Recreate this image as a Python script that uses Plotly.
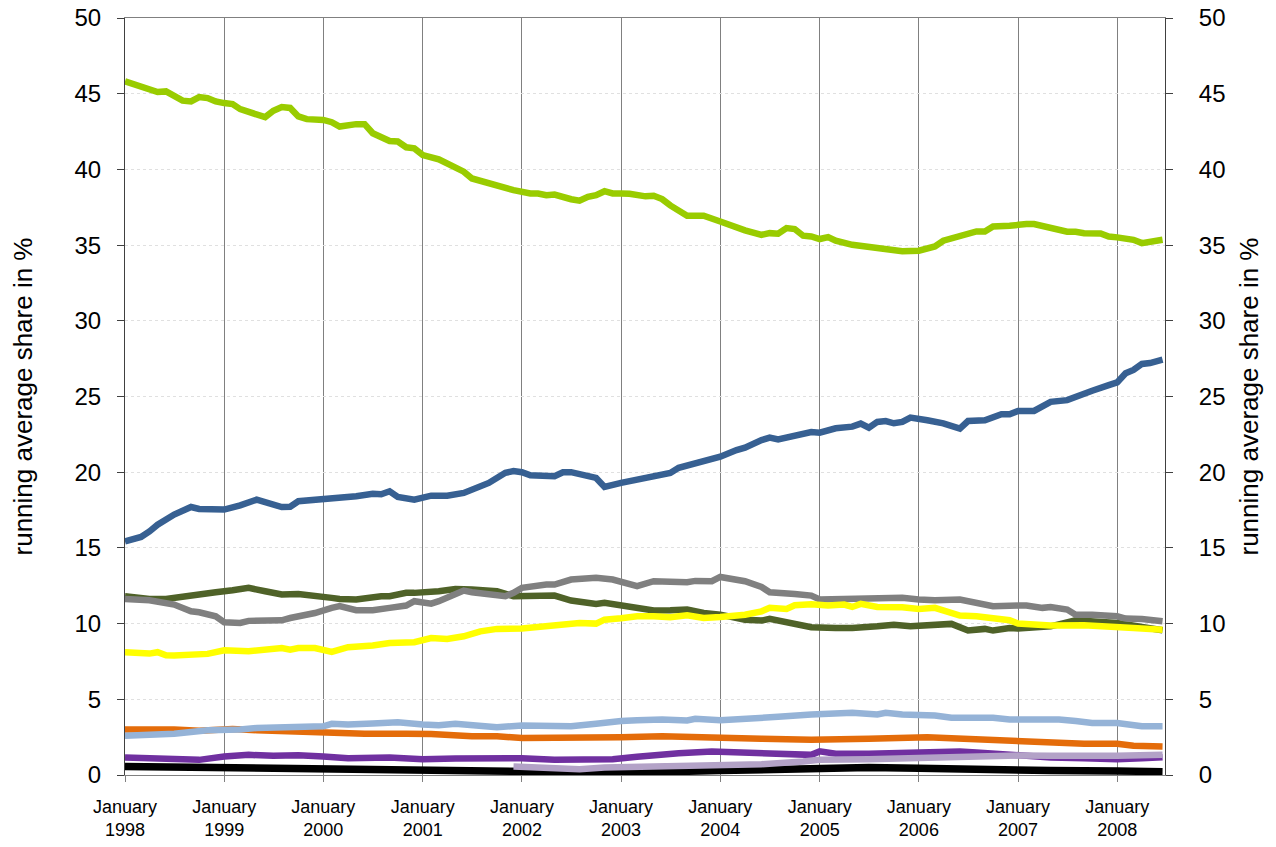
import pandas as pd
import plotly.graph_objects as go

# Month offsets since January 1998 (fractional = part of month) and values (%)
green_m = [0, 2, 4, 5, 6, 7, 8, 9, 10, 11, 12, 13, 14, 17, 18, 19, 20, 21, 22, 24, 25, 26, 28, 29, 30, 32, 33, 34, 35, 36, 38, 40, 41, 42, 44, 46, 47, 49, 50, 51, 52, 54, 55, 56, 57, 58, 59, 60, 61, 63, 64, 65, 66, 68, 70, 72, 74, 75, 77, 78, 79, 80, 81, 82, 83, 84, 85, 86, 88, 89, 92, 93, 94, 96, 98, 99, 102, 103, 104, 105, 107, 108, 109, 110, 112, 114, 115, 116, 118, 119, 120, 121, 122, 123, 124, 125.5]
green_v = [45.82, 45.49, 45.11, 45.15, 44.82, 44.54, 44.49, 44.78, 44.71, 44.49, 44.38, 44.31, 43.98, 43.45, 43.87, 44.12, 44.06, 43.5, 43.32, 43.27, 43.12, 42.83, 42.99, 42.99, 42.39, 41.88, 41.84, 41.46, 41.39, 40.95, 40.66, 40.18, 39.85, 39.40, 39.07, 38.78, 38.63, 38.41, 38.41, 38.30, 38.34, 38.03, 37.94, 38.19, 38.30, 38.56, 38.41, 38.41, 38.39, 38.22, 38.26, 38.04, 37.62, 36.94, 36.94, 36.56, 36.12, 35.97, 35.68, 35.79, 35.75, 36.12, 36.06, 35.62, 35.57, 35.40, 35.53, 35.29, 35.02, 34.96, 34.69, 34.74, 34.60, 34.63, 34.91, 35.29, 35.73, 35.90, 35.90, 36.23, 36.28, 36.37, 36.39, 36.39, 36.12, 35.88, 35.88, 35.79, 35.77, 35.57, 35.51, 35.40, 35.35, 35.13, 35.18, 35.35]

blue_m = [0, 2, 3, 4, 6, 8, 9, 12, 14, 16, 19, 20, 21, 22, 24, 25, 28, 30, 31, 32, 33, 35, 37, 39, 40, 41, 44, 45, 46, 47, 48, 49, 52, 53, 54, 57, 58, 60, 61, 62, 64, 66, 67, 69, 70, 72, 74, 75, 77, 78, 79, 81, 83, 84, 86, 88, 89, 90, 91, 92, 93, 94, 95, 97, 99, 101, 102, 104, 106, 107, 108, 110, 112, 114, 116, 117, 119, 120, 121, 122, 123, 124, 125.5]
blue_v = [15.43, 15.72, 16.09, 16.53, 17.20, 17.70, 17.57, 17.53, 17.81, 18.19, 17.70, 17.72, 18.08, 18.12, 18.30, 18.34, 18.41, 18.57, 18.54, 18.74, 18.37, 18.19, 18.45, 18.45, 18.57, 18.63, 19.29, 19.62, 19.96, 20.07, 20.0, 19.80, 19.74, 20.0, 20.0, 19.62, 19.03, 19.3, 19.4, 19.55, 19.7, 19.95, 20.29, 20.58, 20.66, 21.02, 21.46, 21.62, 22.12, 22.28, 22.17, 22.39, 22.65, 22.61, 22.90, 23.01, 23.21, 22.94, 23.32, 23.38, 23.23, 23.32, 23.61, 23.43, 23.23, 22.88, 23.38, 23.43, 23.83, 23.83, 24.05, 24.05, 24.65, 24.76, 25.11, 25.38, 25.75, 25.93, 26.53, 26.75, 27.15, 27.21, 27.43]

olive_m = [0, 3, 5, 8, 9, 11, 13, 15, 17, 19, 21, 22, 25, 26, 28, 31, 32, 34, 35, 38, 40, 42, 45, 47, 49, 51, 52, 54, 57, 58, 60, 62, 64, 66, 68, 70, 72, 75, 77, 78, 81, 83, 86, 88, 91, 93, 95, 97, 100, 102, 104, 105, 107, 108, 112, 115, 117, 120, 123, 125.5]
olive_v = [11.81, 11.63, 11.63, 11.81, 11.85, 12.07, 12.20, 12.36, 12.14, 11.92, 11.96, 11.92, 11.70, 11.63, 11.59, 11.81, 11.81, 12.03, 12.03, 12.14, 12.29, 12.25, 12.14, 11.81, 11.85, 11.81, 11.85, 11.52, 11.30, 11.37, 11.2, 11.05, 10.86, 10.88, 10.93, 10.70, 10.59, 10.26, 10.20, 10.31, 9.93, 9.76, 9.71, 9.71, 9.82, 9.93, 9.82, 9.89, 9.98, 9.54, 9.65, 9.54, 9.71, 9.67, 9.82, 10.22, 10.15, 10.04, 9.78, 9.56]

grey_m = [0, 3, 6, 8, 9, 11, 12, 14, 15, 19, 20, 22, 23, 25, 26, 28, 30, 32, 34, 35, 37, 38, 40, 41, 42, 44, 46, 47, 48, 51, 52, 54, 57, 59, 60, 61, 62, 64, 66, 68, 69, 71, 72, 74, 75, 77, 78, 81, 83, 84, 87, 88, 91, 94, 96, 98, 101, 103, 105, 108, 109, 111, 112, 114, 115, 117, 120, 121, 123, 125.5]
grey_v = [11.63, 11.54, 11.26, 10.81, 10.75, 10.48, 10.09, 10.04, 10.18, 10.22, 10.37, 10.59, 10.70, 11.04, 11.15, 10.88, 10.88, 11.04, 11.19, 11.48, 11.32, 11.48, 11.92, 12.18, 12.07, 11.92, 11.81, 12.03, 12.36, 12.58, 12.58, 12.91, 13.02, 12.91, 12.75, 12.58, 12.47, 12.80, 12.75, 12.73, 12.82, 12.80, 13.08, 12.91, 12.80, 12.42, 12.07, 11.96, 11.85, 11.59, 11.63, 11.63, 11.76, 11.70, 11.59, 11.54, 11.59, 11.37, 11.15, 11.19, 11.19, 11.04, 11.10, 10.93, 10.59, 10.59, 10.48, 10.33, 10.31, 10.15]

yellow_m = [0, 3, 4, 5, 6, 10, 12, 14, 15, 19, 20, 21, 23, 25, 27, 30, 32, 35, 37, 39, 41, 43, 45, 48, 51, 53, 55, 57, 58, 60, 62, 64, 66, 68, 70, 72, 75, 77, 78, 80, 81, 83, 85, 87, 88, 89, 91, 94, 96, 98, 100, 101, 103, 104, 106, 107, 108, 112, 116, 120, 122, 125.5]
yellow_v = [8.11, 8.02, 8.11, 7.91, 7.89, 8.0, 8.24, 8.24, 8.17, 8.39, 8.28, 8.39, 8.39, 8.13, 8.44, 8.55, 8.72, 8.77, 9.05, 8.99, 9.16, 9.49, 9.65, 9.67, 9.87, 9.98, 10.04, 10.0, 10.26, 10.35, 10.48, 10.48, 10.42, 10.55, 10.37, 10.44, 10.59, 10.81, 11.04, 10.97, 11.21, 11.28, 11.19, 11.26, 11.10, 11.30, 11.10, 11.08, 10.97, 11.04, 10.75, 10.53, 10.48, 10.44, 10.26, 10.22, 10.0, 9.87, 9.89, 9.82, 9.71, 9.60]

ltblue_m = [0, 3, 6, 10, 12, 14, 16, 19, 23, 24, 25, 27, 30, 33, 36, 38, 40, 41, 43, 45, 48, 51, 54, 57, 59, 60, 62, 65, 68, 69, 72, 74, 77, 79, 83, 86, 88, 91, 92, 94, 96, 98, 100, 103, 105, 107, 109, 111, 113, 115, 117, 120, 121, 123, 125.5]
ltblue_v = [2.6, 2.67, 2.73, 2.96, 2.93, 3.0, 3.11, 3.16, 3.22, 3.22, 3.38, 3.33, 3.40, 3.49, 3.33, 3.29, 3.38, 3.33, 3.27, 3.16, 3.27, 3.22, 3.22, 3.38, 3.55, 3.56, 3.62, 3.67, 3.6, 3.71, 3.62, 3.71, 3.82, 3.84, 4.0, 4.07, 4.11, 4.0, 4.11, 4.0, 4.0, 3.93, 3.78, 3.82, 3.78, 3.67, 3.67, 3.73, 3.67, 3.56, 3.44, 3.44, 3.33, 3.22, 3.22]

orange_m = [0, 3, 6, 9, 13, 16, 20, 23, 25, 29, 34, 37, 42, 45, 48, 53, 57, 60, 65, 71, 77, 83, 86, 90, 97, 101, 105, 108, 112, 116, 120, 122, 125.5]
orange_v = [3.0, 3.04, 3.0, 2.93, 3.04, 2.96, 2.89, 2.82, 2.73, 2.73, 2.73, 2.71, 2.56, 2.56, 2.44, 2.44, 2.49, 2.49, 2.56, 2.44, 2.4, 2.33, 2.33, 2.4, 2.49, 2.4, 2.33, 2.22, 2.16, 2.07, 2.07, 1.93, 1.89]

purple_m = [0, 3, 6, 9, 12, 15, 18, 21, 24, 27, 32, 36, 40, 45, 48, 52, 56, 59, 62, 64, 67, 71, 74, 78, 83, 84, 86, 90, 95, 101, 103, 108, 112, 116, 120, 123, 125.5]
purple_v = [1.16, 1.11, 1.07, 1.0, 1.22, 1.33, 1.27, 1.31, 1.22, 1.11, 1.16, 1.04, 1.09, 1.16, 1.11, 1.0, 1.07, 1.04, 1.2, 1.33, 1.44, 1.56, 1.49, 1.44, 1.33, 1.56, 1.4, 1.4, 1.49, 1.56, 1.49, 1.29, 1.16, 1.11, 1.04, 1.11, 1.18]

lilac_m = [47, 51, 55, 58, 60, 64, 66, 72, 77, 82, 84, 90, 96, 101, 108, 112, 116, 120, 125.5]
lilac_v = [0.56, 0.49, 0.38, 0.49, 0.51, 0.53, 0.56, 0.6, 0.71, 0.89, 1.0, 1.04, 1.11, 1.27, 1.29, 1.27, 1.22, 1.27, 1.33]

black_m = [0, 10, 15, 21, 27, 36, 45, 53, 60, 72, 84, 90, 96, 103, 112, 120, 125.5]
black_v = [0.56, 0.51, 0.49, 0.38, 0.38, 0.33, 0.29, 0.18, 0.16, 0.29, 0.44, 0.49, 0.44, 0.33, 0.29, 0.27, 0.22]

years = list(range(1998, 2009))
tick_text = ["January<br>%d" % y for y in years]
y_ticks = list(range(0, 51, 5))
y_title = "running average share in %"

START = pd.Timestamp("1998-01-01")


def to_dates(months):
    out = []
    for m in months:
        whole = int(m)
        d = START + pd.DateOffset(months=whole) + pd.Timedelta(days=round((m - whole) * 30))
        out.append(d)
    return out


series = [
    (black_m, black_v, "#000000", 7.5, "y"),
    (purple_m, purple_v, "#7030A0", 6.5, "y"),
    (lilac_m, lilac_v, "#B3A2C7", 6.5, "y"),
    (orange_m, orange_v, "#E46C0A", 6.5, "y"),
    (ltblue_m, ltblue_v, "#95B3D7", 6.5, "y"),
    (olive_m, olive_v, "#4F6228", 6.5, "y"),
    (grey_m, grey_v, "#808080", 6.5, "y"),
    (yellow_m, yellow_v, "#FFFF00", 6.5, "y"),
    (blue_m, blue_v, "#376092", 6.5, "y"),
    (green_m, green_v, "#99CC00", 6.5, "y2"),
]

fig = go.Figure()
for m, v, col, w, ax in series:
    fig.add_trace(go.Scatter(x=to_dates(m), y=v, mode="lines", yaxis=ax,
                             line=dict(color=col, width=w), showlegend=False,
                             hoverinfo="skip"))

font = "Liberation Sans, Arial, sans-serif"
fig.update_layout(
    width=1268, height=839,
    margin=dict(l=117, r=111, t=10, b=72, autoexpand=False),
    paper_bgcolor="white", plot_bgcolor="white",
    font=dict(family=font, color="black"),
    xaxis=dict(
        type="date", automargin=False,
        range=[pd.Timestamp("1998-01-01"), pd.Timestamp("2008-06-25")],
        tickvals=[pd.Timestamp("%d-01-01" % y) for y in years],
        ticktext=tick_text,
        tickfont=dict(size=18),
        ticks="outside", ticklen=6, tickcolor="#808080",
        showgrid=True, gridcolor="#808080", gridwidth=1,
        showline=True, linecolor="#808080", linewidth=1, mirror=True,
        zeroline=False, ticklabelstandoff=9,
    ),
    yaxis=dict(
        range=[0, 50], tickvals=y_ticks, automargin=False,
        tickfont=dict(size=24), ticklabeloverflow="allow",
        ticks="outside", ticklen=7, tickcolor="#404040",
        showgrid=True, gridcolor="#E0E0E0", griddash="dot", gridwidth=1,
        showline=True, linecolor="#404040", linewidth=1,
        zeroline=False, ticklabelstandoff=11,
        title=dict(text=y_title, font=dict(size=26), standoff=38),
    ),
    yaxis2=dict(
        range=[0, 50], tickvals=y_ticks, overlaying="y", side="right",
        automargin=False, ticklabeloverflow="allow",
        tickfont=dict(size=24),
        ticks="outside", ticklen=7, tickcolor="#404040",
        showgrid=False,
        showline=True, linecolor="#404040", linewidth=1,
        zeroline=False, ticklabelstandoff=21,
        title=dict(text=y_title, font=dict(size=26), standoff=15),
    ),
)

fig.write_html("out.html")
